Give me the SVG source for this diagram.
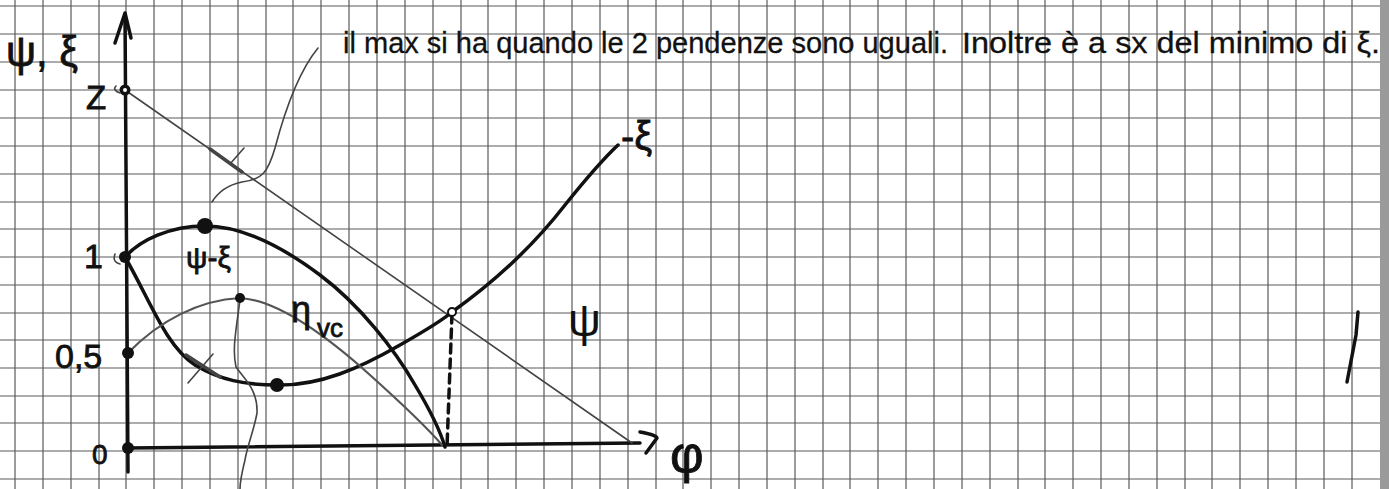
<svg xmlns="http://www.w3.org/2000/svg" width="1389" height="489" viewBox="0 0 1389 489">
<defs>
<style>
.grid line{stroke:#5a5a5a;stroke-width:1.2}
.thick{fill:none;stroke:#111;stroke-width:3.5;stroke-linecap:round;stroke-linejoin:round}
.thin{fill:none;stroke:#444;stroke-width:1.6;stroke-linecap:round}
.pencil{fill:none;stroke:#555;stroke-width:2.2;stroke-linecap:round}
.dot{fill:#111}
.lbl{font-family:"Liberation Sans",Arial,sans-serif;fill:#111;stroke:#111;stroke-width:0.8}
.note{font-family:"Liberation Sans",Arial,sans-serif;fill:#111;font-size:30px;stroke:#111;stroke-width:0.3}
</style>
</defs>
<rect width="1389" height="489" fill="#fff"/>
<g id="grid" class="grid">
<line x1="15" y1="0" x2="15" y2="489"/><line x1="43" y1="0" x2="43" y2="489"/><line x1="71" y1="0" x2="71" y2="489"/><line x1="99" y1="0" x2="99" y2="489"/><line x1="126" y1="0" x2="126" y2="489"/><line x1="154" y1="0" x2="154" y2="489"/><line x1="182" y1="0" x2="182" y2="489"/><line x1="210" y1="0" x2="210" y2="489"/><line x1="238" y1="0" x2="238" y2="489"/><line x1="266" y1="0" x2="266" y2="489"/><line x1="293" y1="0" x2="293" y2="489"/><line x1="321" y1="0" x2="321" y2="489"/><line x1="349" y1="0" x2="349" y2="489"/><line x1="377" y1="0" x2="377" y2="489"/><line x1="405" y1="0" x2="405" y2="489"/><line x1="433" y1="0" x2="433" y2="489"/><line x1="461" y1="0" x2="461" y2="489"/><line x1="488" y1="0" x2="488" y2="489"/><line x1="516" y1="0" x2="516" y2="489"/><line x1="544" y1="0" x2="544" y2="489"/><line x1="572" y1="0" x2="572" y2="489"/><line x1="600" y1="0" x2="600" y2="489"/><line x1="628" y1="0" x2="628" y2="489"/><line x1="656" y1="0" x2="656" y2="489"/><line x1="683" y1="0" x2="683" y2="489"/><line x1="711" y1="0" x2="711" y2="489"/><line x1="739" y1="0" x2="739" y2="489"/><line x1="767" y1="0" x2="767" y2="489"/><line x1="795" y1="0" x2="795" y2="489"/><line x1="823" y1="0" x2="823" y2="489"/><line x1="850" y1="0" x2="850" y2="489"/><line x1="878" y1="0" x2="878" y2="489"/><line x1="906" y1="0" x2="906" y2="489"/><line x1="934" y1="0" x2="934" y2="489"/><line x1="962" y1="0" x2="962" y2="489"/><line x1="990" y1="0" x2="990" y2="489"/><line x1="1018" y1="0" x2="1018" y2="489"/><line x1="1045" y1="0" x2="1045" y2="489"/><line x1="1073" y1="0" x2="1073" y2="489"/><line x1="1101" y1="0" x2="1101" y2="489"/><line x1="1129" y1="0" x2="1129" y2="489"/><line x1="1157" y1="0" x2="1157" y2="489"/><line x1="1185" y1="0" x2="1185" y2="489"/><line x1="1212" y1="0" x2="1212" y2="489"/><line x1="1240" y1="0" x2="1240" y2="489"/><line x1="1268" y1="0" x2="1268" y2="489"/><line x1="1296" y1="0" x2="1296" y2="489"/><line x1="1324" y1="0" x2="1324" y2="489"/><line x1="1352" y1="0" x2="1352" y2="489"/>
<line x1="0" y1="6" x2="1382" y2="6"/><line x1="0" y1="34" x2="1382" y2="34"/><line x1="0" y1="62" x2="1382" y2="62"/><line x1="0" y1="90" x2="1382" y2="90"/><line x1="0" y1="118" x2="1382" y2="118"/><line x1="0" y1="146" x2="1382" y2="146"/><line x1="0" y1="174" x2="1382" y2="174"/><line x1="0" y1="202" x2="1382" y2="202"/><line x1="0" y1="229" x2="1382" y2="229"/><line x1="0" y1="257" x2="1382" y2="257"/><line x1="0" y1="285" x2="1382" y2="285"/><line x1="0" y1="313" x2="1382" y2="313"/><line x1="0" y1="340" x2="1382" y2="340"/><line x1="0" y1="368" x2="1382" y2="368"/><line x1="0" y1="396" x2="1382" y2="396"/><line x1="0" y1="423" x2="1382" y2="423"/><line x1="0" y1="451" x2="1382" y2="451"/><line x1="0" y1="479" x2="1382" y2="479"/>
</g>
<rect x="1380" y="0" width="9" height="489" fill="#9a9a9a"/>

<g id="axes">
<path class="thick" d="M128,472 L125,14"/>
<path class="thick" d="M115,43 L125,13 L131,38"/>
<path class="thick" d="M128,448 L640,443"/>
<path class="thick" d="M640,432 Q657,435 657,438 L646,453"/>
</g>

<g id="connectors">
<path id="psi-line" class="thin" d="M125,90 L632,443"/>
<path class="thick" stroke-width="5" d="M210,149 L242,172" style="stroke:#444"/>
<path class="thin" d="M230,164 L244,148"/>
<path id="psi-minus-xi" class="thick" d="M125,257 C140,240 170,226 205,226 C240,226 280,245 320,275 C360,305 395,350 415,385 C430,410 440,430 445,447"/>
<path id="xi" class="thick" d="M125,257 C150,300 165,345 195,365 C220,380 245,385 277,385 C320,386 360,368 400,345 C430,328 445,318 452,312 C490,285 530,250 565,205 C585,180 600,162 618,145"/>
<path class="thick" stroke-width="6" d="M186,355 L220,377" style="stroke:#444"/>
<path class="thin" d="M188,383 L213,354"/>
<path id="eta-vc" class="pencil" d="M128,353 C160,320 200,300 240,298 C275,300 320,330 370,375 C400,402 425,425 442,445"/>
<path class="thick" stroke-dasharray="9 6" stroke-width="2.5" d="M452,314 L447,447"/>
<path class="thin" stroke-width="1.1" d="M318,48 C300,70 285,110 275,148 C268,172 262,180 242,182 C228,185 218,192 212,202"/>
<path class="thin" stroke-width="1.1" d="M240,300 C236,330 232,350 236,367 C245,380 258,390 257,413 C254,430 247,447 245,460 C242,472 240,482 240,489"/>
<path class="thick" stroke-width="3" d="M1358,312 L1356,335 L1347,382"/>
</g>

<g id="points">
<circle class="dot" cx="125" cy="90" r="5.5"/><circle cx="125" cy="90" r="2" fill="#fff"/>
<circle class="dot" cx="125" cy="257" r="6"/>
<circle class="dot" cx="205" cy="226" r="8"/>
<circle class="dot" cx="240" cy="298" r="5"/>
<circle class="dot" cx="277" cy="385" r="7"/>
<circle class="dot" cx="128" cy="353" r="6"/>
<circle class="dot" cx="128" cy="448" r="6"/>
<circle cx="452" cy="312" r="4" fill="#fff" stroke="#111" stroke-width="2"/>
<path class="thin" d="M120,93 Q112,90 116,86"/>
<path class="thin" d="M120,264 Q112,262 115,254"/>
</g>

<g id="labels">
<text class="lbl" x="6" y="66" font-size="42">ψ, ξ</text>
<text class="lbl" x="86" y="109" font-size="33">Z</text>
<text class="lbl" x="84" y="268" font-size="34">1</text>
<text class="lbl" x="55" y="368" font-size="34">0,5</text>
<text class="lbl" x="92" y="464" font-size="28">0</text>
<text class="lbl" x="670" y="472" font-size="52">φ</text>
<text class="lbl" x="186" y="268" font-size="30">ψ-ξ</text>
<text class="lbl" x="291" y="322" font-size="36">η</text>
<text class="lbl" x="317" y="337" font-size="26">vc</text>
<text class="lbl" x="568" y="336" font-size="46" style="stroke-width:0">ψ</text>
<text class="lbl" x="621" y="150" font-size="40">-ξ</text>
</g>

<g id="note">
<text class="note" x="343" y="53" textLength="605" lengthAdjust="spacingAndGlyphs">il max si ha quando le 2 pendenze sono uguali.</text>
<text class="note" x="962" y="53" textLength="418" lengthAdjust="spacingAndGlyphs">Inoltre è a sx del minimo di ξ.</text>
</g>
</svg>
